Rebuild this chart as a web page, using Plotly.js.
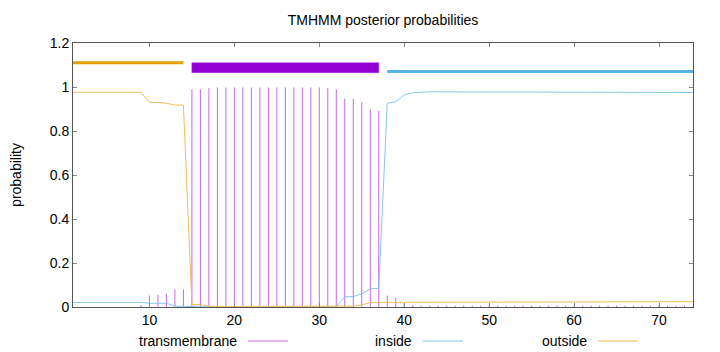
<!DOCTYPE html>
<html><head><meta charset="utf-8">
<script src="https://cdn.plot.ly/plotly-3.0.1.min.js"></script>
<style>html,body{margin:0;padding:0;background:#fff}#chart{width:720px;height:352px}</style>
</head><body><div id="chart"></div>
<script>
const positions = [1,2,3,4,5,6,7,8,9,10,11,12,13,14,15,16,17,18,19,20,21,22,23,24,25,26,27,28,29,30,31,32,33,34,35,36,37,38,39,40,41,42,43,44,45,46,47,48,49,50,51,52,53,54,55,56,57,58,59,60,61,62,63,64,65,66,67,68,69,70,71,72,73,74];
const transmembrane = [0,0,0,0,0,0,0,0,0.008,
  0.052,0.055,0.06,0.08,0.08,
  0.99,0.99,0.995,
  0.998,0.998,0.998,0.998,0.998,0.998,0.998,0.998,0.998,0.998,0.998,0.998,0.998,
  0.995,0.99,
  0.947,0.947,0.93,0.899,0.892,
  0.052,0.042,0.017,0.008,
  0.006,0.006,0.006,0.006,0.006,0.006,0.006,0.006,0.006,0.006,0.006,0.006,0.006,0.006,0.006,0.006,0.006,0.006,0.006,0.006,0.006,0.006,0.006,0.006,0.006,0.006,0.006,0.006,0.006,0.006,0.006,0.006,0.006];
const inside = [0.021,0.021,0.021,0.021,0.021,0.021,0.021,0.021,0.021,
  0.017,0.017,0.017,0.004,0.002,
  0.001,0.001,0.001,0.001,0.001,0.001,0.001,0.001,0.001,0.001,0.001,0.001,0.001,0.001,0.001,0.001,0.001,0.001,
  0.047,0.047,0.06,0.083,0.085,
  0.926,0.933,0.964,0.974,0.977,
  0.978,0.978,0.978,0.978,0.978,0.978,0.978,0.978,0.978,0.978,
  0.976,0.976,0.976,0.976,0.976,0.976,0.976,0.976,0.976,0.976,0.976,0.976,0.976,0.976,
  0.975,0.975,0.975,0.975,0.975,0.975,0.975,0.975];
const outside = [0.976,0.976,0.976,0.976,0.976,0.976,0.976,0.976,0.976,
  0.93,0.93,0.926,0.918,0.918,
  0.012,0.011,0.004,
  0.002,0.002,0.002,0.002,0.002,0.002,0.002,0.002,0.002,0.002,0.002,0.002,0.002,0.002,0.002,
  0.003,0.004,0.009,0.021,
  0.021,0.021,0.021,0.021,0.021,0.021,0.021,0.021,0.021,0.021,0.021,0.021,0.021,0.021,0.021,0.021,0.021,0.021,0.021,0.021,0.021,0.021,0.021,0.021,0.021,0.021,0.021,0.021,0.021,0.021,
  0.024,0.024,0.024,0.024,0.024,0.024,0.024,0.024];
// predicted topology
const segType  = ['outside','TMhelix','inside'];
const segStart = [1, 15, 38];
const segEnd   = [14, 37, 74];
const segLevel = {outside: 1.11, inside: 1.07};
const tmBoxLow = 1.065, tmBoxHigh = 1.11;
const xTicks = [10,20,30,40,50,60,70];
const legendNames = ['transmembrane','inside','outside'];

const FONT = 'Liberation Sans, Arial, sans-serif';
const cTM = '#c46ae8', cIn = '#86c7ec', cOut = '#f0bc58';

// impulses
const ix = [], iy = [];
positions.forEach((p,i)=>{ if(transmembrane[i]>0){ ix.push(p,p,null); iy.push(0,transmembrane[i],null);} });

const traces = [
  {x: ix, y: iy, mode:'lines', line:{color:cTM, width:1}, hoverinfo:'skip', showlegend:false},
  {x: positions, y: inside, mode:'lines', line:{color:cIn, width:1}, showlegend:false},
  {x: positions, y: outside, mode:'lines', line:{color:cOut, width:1}, showlegend:false}
];
segType.forEach((t,k)=>{
  if(t==='TMhelix'){
    traces.push({x:[segStart[k],segEnd[k],segEnd[k],segStart[k],segStart[k]],
      y:[tmBoxLow,tmBoxLow,tmBoxHigh,tmBoxHigh,tmBoxLow], mode:'lines', fill:'toself',
      fillcolor:'#9400d3', line:{color:'#a020d8', width:0.5}, showlegend:false, hoverinfo:'skip'});
  } else {
    traces.push({x:[segStart[k],segEnd[k]], y:[segLevel[t],segLevel[t]], mode:'lines',
      line:{color: t==='outside' ? '#e69f00' : '#56b4e9', width:3}, showlegend:false, hoverinfo:'skip'});
  }
});

// legend drawn gnuplot-style (text, then sample line)
const L = 73, W = 620, T = 43, H = 264;
const px = v => (v - L)/W, py = v => (T + H - v)/H;
const legRight = [239, 414, 589];
const legColors = [cTM, cIn, cOut];
const annotations = [], shapes = [];
legendNames.forEach((n,k)=>{
  annotations.push({text:n, xref:'paper', yref:'paper', x:px(legRight[k]), y:py(341), xanchor:'right', yanchor:'middle', showarrow:false, font:{family:FONT, size:14, color:'#000'}});
  shapes.push({type:'line', xref:'paper', yref:'paper', x0:px(legRight[k]+9), x1:px(legRight[k]+49), y0:py(341), y1:py(341), line:{color:legColors[k], width:1}});
});

const layout = {
  width:720, height:352,
  margin:{l:73, r:27, t:43, b:45},
  paper_bgcolor:'#fff', plot_bgcolor:'#fff',
  font:{family:FONT, size:14, color:'#000'},
  title:{text:'TMHMM posterior probabilities', x:0.5, xref:'paper', y:1-20/352, yref:'container', xanchor:'center', yanchor:'middle', font:{family:FONT, size:14, color:'#000'}},
  xaxis:{range:[1,74], tickvals:xTicks, ticks:'inside', ticklen:4, tickcolor:'#888', showline:true, linecolor:'#555', linewidth:1, mirror:'ticks', showgrid:false, zeroline:false, tickfont:{family:FONT,size:14}},
  yaxis:{range:[0,1.2], dtick:0.2, ticks:'inside', ticklen:4, tickcolor:'#888', showline:true, linecolor:'#555', linewidth:1, mirror:'ticks', showgrid:false, zeroline:false, tickfont:{family:FONT,size:14},
    title:{text:'probability', font:{family:FONT,size:14}, standoff:24}},
  showlegend:false,
  annotations, shapes
};
Plotly.newPlot('chart', traces, layout, {displayModeBar:false, staticPlot:true});
</script></body></html>
